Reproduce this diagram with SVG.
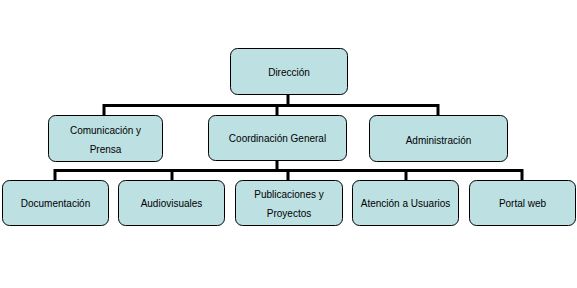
<svg xmlns="http://www.w3.org/2000/svg" width="577" height="288" viewBox="0 0 577 288">
<style>
.box{fill:#bde0e3;stroke:#000;stroke-width:1}
.t{font-family:"Liberation Sans",Arial,sans-serif;font-size:10px;fill:#000;text-anchor:middle;dominant-baseline:central}
.c{fill:none;stroke:#000;stroke-width:3}
</style>
<rect width="577" height="288" fill="#fff"/>
<g id="connectors">
<path class="c" d="M288 94V105.5M104 115V105.5H438V115M277 105.5V115"/>
<path class="c" d="M277 160V170.5M55 181V170.5H522V181M172 170.5V181M288 170.5V181M406 170.5V181"/>
</g>
<g id="direccion"><rect class="box" x="230.5" y="48.5" width="117" height="46" rx="7"/><text class="t" x="289" y="72">Dirección</text></g>
<g id="comunicacion"><rect class="box" x="48.5" y="115.5" width="114" height="46" rx="7"/><text class="t" x="105.5" y="130">Comunicación y</text><text class="t" x="105.5" y="149">Prensa</text></g>
<g id="coordinacion"><rect class="box" x="208.5" y="115.5" width="138" height="45" rx="7"/><text class="t" x="277.5" y="138">Coordinación General</text></g>
<g id="administracion"><rect class="box" x="369.5" y="115.5" width="138" height="46" rx="7"/><text class="t" x="438.5" y="140">Administración</text></g>
<g id="documentacion"><rect class="box" x="2.5" y="180.5" width="106" height="45" rx="7"/><text class="t" x="55.5" y="203">Documentación</text></g>
<g id="audiovisuales"><rect class="box" x="118.5" y="180.5" width="106" height="45" rx="7"/><text class="t" x="171.5" y="203">Audiovisuales</text></g>
<g id="publicaciones"><rect class="box" x="235.5" y="180.5" width="107" height="45" rx="7"/><text class="t" x="289" y="194">Publicaciones y</text><text class="t" x="289" y="213">Proyectos</text></g>
<g id="atencion"><rect class="box" x="352.5" y="180.5" width="106" height="45" rx="7"/><text class="t" x="405.5" y="203">Atención a Usuarios</text></g>
<g id="portal"><rect class="box" x="469.5" y="180.5" width="106" height="45" rx="7"/><text class="t" x="522.5" y="203">Portal web</text></g>
</svg>
